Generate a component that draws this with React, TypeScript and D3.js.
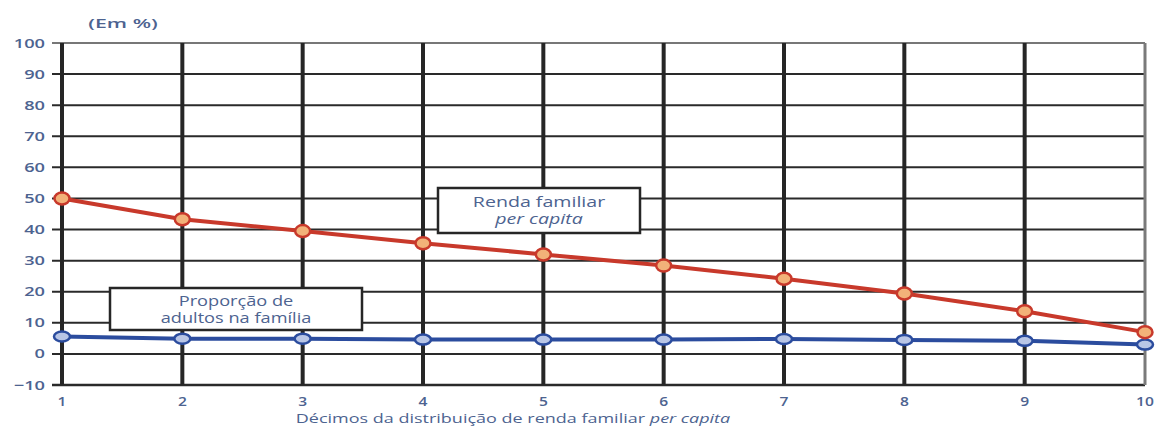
import React, { useEffect, useRef } from "react";
import * as d3 from "d3";

const deciles = [1, 2, 3, 4, 5, 6, 7, 8, 9, 10];
const renda = [50, 43.3, 39.5, 35.6, 32, 28.4, 24.2, 19.4, 13.7, 7];
const adultos = [5.6, 4.9, 4.9, 4.6, 4.6, 4.6, 4.8, 4.5, 4.2, 3];
const yTicks = [-10, 0, 10, 20, 30, 40, 50, 60, 70, 80, 90, 100];

const W = 1158;
const H = 431;

export default function App() {
  const ref = useRef<SVGSVGElement>(null);

  useEffect(() => {
    const svg = d3.select(ref.current);
    svg.selectAll("*").remove();
    const x = d3.scaleLinear().domain([1, 10]).range([62, 1145]);
    const y = d3.scaleLinear().domain([-10, 100]).range([385, 43]);
    const font = "'Open Sans', 'Noto Sans', sans-serif";
    const labelColor = "#4d6390";

    const wideText = (
      g: d3.Selection<any, any, any, any>,
      tx: number,
      ty: number,
      sx: number,
      size: number,
      anchor: string,
      weight: number | string = "normal"
    ) =>
      g.append("text")
        .attr("transform", `translate(${tx},${ty}) scale(${sx},1)`)
        .attr("dy", "0.35em")
        .attr("text-anchor", anchor)
        .attr("font-family", font)
        .attr("font-size", size)
        .attr("font-weight", weight)
        .attr("fill", labelColor);

    // horizontal gridlines
    svg.append("g").selectAll("line").data(yTicks).join("line")
      .attr("x1", 52).attr("x2", x(10))
      .attr("y1", (d) => y(d)).attr("y2", (d) => y(d))
      .attr("stroke", (d) => (d === 100 ? "#777" : "#2a2a2a"))
      .attr("stroke-width", (d) => (d === -10 ? 2.5 : 2));

    // vertical gridlines
    svg.append("g").selectAll("line").data(deciles).join("line")
      .attr("x1", (d) => x(d)).attr("x2", (d) => x(d))
      .attr("y1", y(100)).attr("y2", y(-10))
      .attr("stroke", (d) => (d === 10 ? "#7a7a7a" : "#262626"))
      .attr("stroke-width", (d) => (d === 10 ? 3 : 4));

    // y tick labels
    yTicks.forEach((d) => {
      wideText(svg, 45, y(d), 1.4, 13, "end", 600)
        .text(d < 0 ? "\u2212" + Math.abs(d) : String(d));
    });

    // x tick labels
    deciles.forEach((d) => {
      wideText(svg, x(d), 402, 1.3, 12, "middle", 600).text(String(d));
    });

    // unit label
    wideText(svg, 123, 24, 1.7, 12.5, "middle", 600).text("(Em %)");

    // x axis title
    const xt = wideText(svg, 513, 419, 1.5, 12, "middle");
    xt.append("tspan").text("Décimos da distribuição de renda familiar ");
    xt.append("tspan").attr("font-style", "italic").text("per capita");

    const line = d3.line<number>().x((_, i) => x(deciles[i])).y((d) => y(d));

    // blue series
    svg.append("path").datum(adultos).attr("d", line)
      .attr("fill", "none").attr("stroke", "#2b4c9e").attr("stroke-width", 4);
    svg.append("g").selectAll("ellipse").data(adultos).join("ellipse")
      .attr("cx", (_, i) => x(deciles[i])).attr("cy", (d) => y(d))
      .attr("rx", 8).attr("ry", 5)
      .attr("fill", "#b9c6e6").attr("stroke", "#2b4c9e").attr("stroke-width", 2.5);

    // red series
    svg.append("path").datum(renda).attr("d", line)
      .attr("fill", "none").attr("stroke", "#c8392b").attr("stroke-width", 4);
    svg.append("g").selectAll("ellipse").data(renda).join("ellipse")
      .attr("cx", (_, i) => x(deciles[i])).attr("cy", (d) => y(d))
      .attr("rx", 7.5).attr("ry", 6)
      .attr("fill", "#f2b279").attr("stroke", "#c8392b").attr("stroke-width", 2.5);

    // annotation boxes
    const boxes = [
      { x0: 110, y0: 288, w: 252, h: 42, sx: 1.3, lines: [["Proporção de", false], ["adultos na família", false]] },
      { x0: 438, y0: 188, w: 202, h: 45, sx: 1.4, lines: [["Renda familiar", false], ["per capita", true]] },
    ] as { x0: number; y0: number; w: number; h: number; sx: number; lines: [string, boolean][] }[];
    boxes.forEach((b) => {
      svg.append("rect").attr("x", b.x0).attr("y", b.y0).attr("width", b.w).attr("height", b.h)
        .attr("fill", "#fff").attr("stroke", "#262626").attr("stroke-width", 2.5);
      b.lines.forEach(([t, it], i) => {
        wideText(svg, b.x0 + b.w / 2, b.y0 + b.h / 2 + (i === 0 ? -8 : 9), b.sx, 14, "middle", 500)
          .attr("font-style", it ? "italic" : "normal")
          .text(t);
      });
    });
  }, []);

  return (
    <svg ref={ref} width={W} height={H}
      style={{ position: "absolute", left: 0, top: 0, background: "#fff" }} />
  );
}
